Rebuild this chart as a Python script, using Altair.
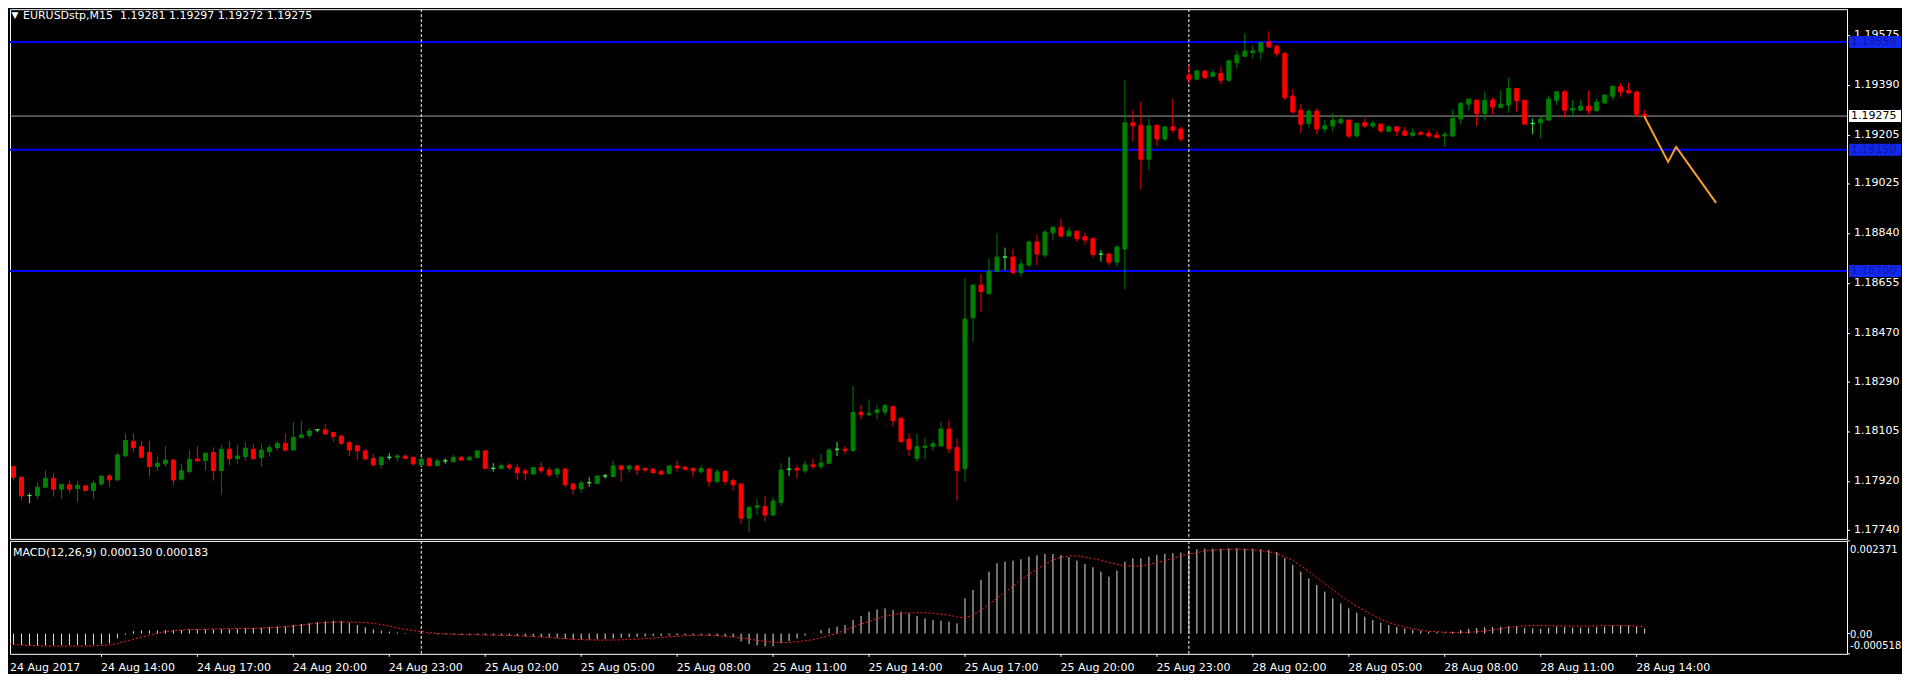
import altair as alt
import pandas as pd

# ---------------- data ----------------
opens = [
    1.17925, 1.17975, 1.17935, 1.17867, 1.17867, 1.17898, 1.17931, 1.17891, 1.17907, 1.17893,
    1.17903, 1.17886, 1.17910, 1.17940, 1.17925, 1.18014, 1.18069, 1.18049, 1.18027, 1.17975,
    1.17985, 1.17999, 1.17928, 1.17956, 1.18003, 1.17997, 1.18027, 1.17960, 1.18039, 1.18004,
    1.18012, 1.18039, 1.18009, 1.18030, 1.18045, 1.18061, 1.18036, 1.18082, 1.18090, 1.18111,
    1.18111, 1.18101, 1.18088, 1.18064, 1.18052, 1.18033, 1.18005, 1.17981, 1.18009, 1.18009,
    1.18014, 1.18009, 1.17981, 1.18005, 1.17978, 1.17996, 1.17993, 1.18009, 1.17999, 1.18008,
    1.18033, 1.17968, 1.17967, 1.17980, 1.17970, 1.17959, 1.17947, 1.17971, 1.17962, 1.17947,
    1.17966, 1.17910, 1.17892, 1.17915, 1.17912, 1.17940, 1.17938, 1.17977, 1.17966, 1.17977,
    1.17968, 1.17965, 1.17957, 1.17949, 1.17977, 1.17973, 1.17968, 1.17955, 1.17966, 1.17919,
    1.17956, 1.17923, 1.17910, 1.17783, 1.17824, 1.17826, 1.17795, 1.17841, 1.17965, 1.17968,
    1.17959, 1.17981, 1.17975, 1.17987, 1.18039, 1.18039, 1.18034, 1.18176, 1.18167, 1.18175,
    1.18177, 1.18197, 1.18154, 1.18076, 1.18005, 1.18046, 1.18049, 1.18051, 1.18114, 1.18045,
    1.17967, 1.18527, 1.18648, 1.18617, 1.18699, 1.18752, 1.18752, 1.18694, 1.18722, 1.18808,
    1.18760, 1.18842, 1.18863, 1.18830, 1.18848, 1.18827, 1.18820, 1.18763, 1.18763, 1.18733,
    1.18782, 1.19250, 1.19241, 1.19115, 1.19241, 1.19190, 1.19235, 1.19227, 1.19427, 1.19412,
    1.19442, 1.19423, 1.19433, 1.19408, 1.19473, 1.19497, 1.19510, 1.19513, 1.19550, 1.19534,
    1.19507, 1.19349, 1.19297, 1.19248, 1.19293, 1.19227, 1.19238, 1.19250, 1.19260, 1.19201,
    1.19250, 1.19238, 1.19245, 1.19219, 1.19235, 1.19219, 1.19204, 1.19213, 1.19211, 1.19204,
    1.19201, 1.19201, 1.19265, 1.19319, 1.19334, 1.19285, 1.19334, 1.19307, 1.19316, 1.19377,
    1.19334, 1.19248, 1.19250, 1.19260, 1.19334, 1.19365, 1.19297, 1.19297, 1.19312, 1.19295,
    1.19324, 1.19349, 1.19384, 1.19369, 1.19364, 1.19281,
]
highs = [
    1.17981, 1.17977, 1.17937, 1.17876, 1.17915, 1.17959, 1.17950, 1.17909, 1.17922, 1.17922,
    1.17905, 1.17923, 1.17943, 1.17947, 1.18027, 1.18098, 1.18098, 1.18071, 1.18071, 1.18012,
    1.18049, 1.18002, 1.17985, 1.18036, 1.18049, 1.18027, 1.18046, 1.18054, 1.18069, 1.18055,
    1.18066, 1.18059, 1.18061, 1.18055, 1.18071, 1.18098, 1.18140, 1.18144, 1.18117, 1.18114,
    1.18132, 1.18104, 1.18091, 1.18071, 1.18055, 1.18039, 1.18022, 1.18014, 1.18024, 1.18020,
    1.18018, 1.18012, 1.18009, 1.18009, 1.18005, 1.18005, 1.18018, 1.18014, 1.18014, 1.18034,
    1.18034, 1.17987, 1.17987, 1.17987, 1.17984, 1.17968, 1.17972, 1.17992, 1.17972, 1.17967,
    1.17967, 1.17913, 1.17923, 1.17935, 1.17941, 1.17947, 1.17997, 1.17980, 1.17982, 1.17981,
    1.17972, 1.17970, 1.17962, 1.17981, 1.17997, 1.17977, 1.17972, 1.17980, 1.17968, 1.17966,
    1.17962, 1.17930, 1.17913, 1.17829, 1.17856, 1.17866, 1.17863, 1.17987, 1.18009, 1.17981,
    1.17996, 1.18005, 1.18022, 1.18043, 1.18066, 1.18051, 1.18274, 1.18203, 1.18224, 1.18203,
    1.18207, 1.18202, 1.18158, 1.18098, 1.18096, 1.18082, 1.18071, 1.18141, 1.18145, 1.18078,
    1.18672, 1.18651, 1.18689, 1.18745, 1.18840, 1.18787, 1.18782, 1.18743, 1.18813, 1.18836,
    1.18852, 1.18867, 1.18895, 1.18862, 1.18850, 1.18842, 1.18825, 1.18778, 1.18768, 1.18796,
    1.19408, 1.19297, 1.19328, 1.19266, 1.19241, 1.19238, 1.19340, 1.19235, 1.19464, 1.19445,
    1.19445, 1.19448, 1.19458, 1.19485, 1.19517, 1.19581, 1.19538, 1.19550, 1.19590, 1.19538,
    1.19513, 1.19374, 1.19319, 1.19302, 1.19303, 1.19260, 1.19285, 1.19275, 1.19262, 1.19250,
    1.19266, 1.19258, 1.19248, 1.19241, 1.19238, 1.19235, 1.19229, 1.19220, 1.19223, 1.19217,
    1.19217, 1.19300, 1.19328, 1.19340, 1.19337, 1.19365, 1.19344, 1.19369, 1.19418, 1.19377,
    1.19334, 1.19266, 1.19272, 1.19351, 1.19367, 1.19371, 1.19334, 1.19334, 1.19369, 1.19340,
    1.19356, 1.19386, 1.19398, 1.19398, 1.19369, 1.19297,
]
lows = [
    1.17907, 1.17923, 1.17849, 1.17839, 1.17854, 1.17894, 1.17863, 1.17854, 1.17878, 1.17844,
    1.17881, 1.17854, 1.17903, 1.17900, 1.17923, 1.18012, 1.18027, 1.18007, 1.17937, 1.17960,
    1.17975, 1.17907, 1.17923, 1.17950, 1.17993, 1.17960, 1.17923, 1.17870, 1.17980, 1.17985,
    1.17997, 1.17999, 1.17975, 1.18012, 1.18036, 1.18030, 1.18036, 1.18080, 1.18080, 1.18102,
    1.18092, 1.18067, 1.18055, 1.18014, 1.17999, 1.17999, 1.17975, 1.17968, 1.17999, 1.17993,
    1.18002, 1.17977, 1.17977, 1.17975, 1.17977, 1.17985, 1.17989, 1.17997, 1.17997, 1.18004,
    1.17966, 1.17956, 1.17965, 1.17962, 1.17925, 1.17923, 1.17944, 1.17950, 1.17935, 1.17933,
    1.17898, 1.17870, 1.17878, 1.17900, 1.17909, 1.17930, 1.17935, 1.17919, 1.17952, 1.17944,
    1.17952, 1.17949, 1.17944, 1.17946, 1.17956, 1.17960, 1.17935, 1.17950, 1.17900, 1.17913,
    1.17905, 1.17886, 1.17762, 1.17730, 1.17795, 1.17771, 1.17792, 1.17829, 1.17940, 1.17930,
    1.17950, 1.17966, 1.17965, 1.17983, 1.18014, 1.18022, 1.18030, 1.18150, 1.18162, 1.18150,
    1.18164, 1.18123, 1.18064, 1.18014, 1.17993, 1.18002, 1.18034, 1.18049, 1.18024, 1.17849,
    1.17919, 1.18438, 1.18549, 1.18611, 1.18696, 1.18704, 1.18689, 1.18679, 1.18716, 1.18722,
    1.18751, 1.18813, 1.18824, 1.18827, 1.18808, 1.18799, 1.18751, 1.18735, 1.18721, 1.18716,
    1.18632, 1.19182, 1.19003, 1.19075, 1.19164, 1.19183, 1.19213, 1.19180, 1.19396, 1.19408,
    1.19412, 1.19418, 1.19393, 1.19402, 1.19452, 1.19497, 1.19489, 1.19485, 1.19528, 1.19495,
    1.19334, 1.19285, 1.19211, 1.19232, 1.19208, 1.19213, 1.19217, 1.19245, 1.19194, 1.19198,
    1.19232, 1.19229, 1.19213, 1.19217, 1.19201, 1.19201, 1.19198, 1.19204, 1.19196, 1.19192,
    1.19161, 1.19198, 1.19245, 1.19297, 1.19238, 1.19262, 1.19282, 1.19307, 1.19287, 1.19291,
    1.19245, 1.19208, 1.19192, 1.19257, 1.19316, 1.19270, 1.19272, 1.19295, 1.19282, 1.19291,
    1.19319, 1.19337, 1.19346, 1.19356, 1.19272, 1.19272,
]
closes = [
    1.17975, 1.17935, 1.17866, 1.17867, 1.17898, 1.17931, 1.17891, 1.17909, 1.17891, 1.17905,
    1.17886, 1.17913, 1.17939, 1.17925, 1.18018, 1.18071, 1.18045, 1.18009, 1.17975, 1.17987,
    1.17999, 1.17925, 1.17959, 1.18002, 1.17996, 1.18024, 1.17960, 1.18039, 1.18004, 1.18014,
    1.18043, 1.18004, 1.18036, 1.18045, 1.18061, 1.18036, 1.18083, 1.18092, 1.18107, 1.18111,
    1.18096, 1.18086, 1.18061, 1.18036, 1.18033, 1.18003, 1.17981, 1.18009, 1.18009, 1.18014,
    1.18005, 1.17985, 1.18002, 1.17978, 1.17996, 1.17996, 1.18009, 1.17999, 1.18009, 1.18033,
    1.17968, 1.17968, 1.17978, 1.17970, 1.17952, 1.17950, 1.17971, 1.17959, 1.17944, 1.17966,
    1.17907, 1.17891, 1.17914, 1.17915, 1.17940, 1.17940, 1.17977, 1.17965, 1.17977, 1.17962,
    1.17962, 1.17952, 1.17947, 1.17977, 1.17970, 1.17965, 1.17959, 1.17968, 1.17919, 1.17955,
    1.17919, 1.17907, 1.17783, 1.17823, 1.17829, 1.17795, 1.17847, 1.17962, 1.17965, 1.17962,
    1.17981, 1.17975, 1.17988, 1.18036, 1.18039, 1.18034, 1.18176, 1.18167, 1.18172, 1.18185,
    1.18201, 1.18145, 1.18067, 1.18039, 1.18049, 1.18051, 1.18060, 1.18114, 1.18041, 1.17960,
    1.18522, 1.18648, 1.18623, 1.18700, 1.18752, 1.18752, 1.18694, 1.18726, 1.18808, 1.18763,
    1.18845, 1.18862, 1.18830, 1.18848, 1.18820, 1.18815, 1.18762, 1.18763, 1.18733, 1.18789,
    1.19250, 1.19239, 1.19115, 1.19239, 1.19190, 1.19235, 1.19223, 1.19190, 1.19412, 1.19443,
    1.19418, 1.19436, 1.19408, 1.19480, 1.19501, 1.19516, 1.19517, 1.19548, 1.19532, 1.19507,
    1.19344, 1.19290, 1.19245, 1.19293, 1.19227, 1.19239, 1.19260, 1.19262, 1.19201, 1.19248,
    1.19238, 1.19248, 1.19220, 1.19235, 1.19219, 1.19204, 1.19213, 1.19208, 1.19201, 1.19196,
    1.19207, 1.19266, 1.19322, 1.19338, 1.19285, 1.19334, 1.19309, 1.19319, 1.19377, 1.19332,
    1.19245, 1.19248, 1.19264, 1.19338, 1.19365, 1.19297, 1.19303, 1.19312, 1.19295, 1.19327,
    1.19353, 1.19386, 1.19365, 1.19361, 1.19282, 1.19275,
]
# MACD main (histogram) and signal, in millionths
macd_main_e6 = [
    -280, -285, -300, -310, -310, -300, -300, -295, -295, -290,
    -290, -285, -270, -250, -120, -30, 60, 80, 80, 80,
    90, 85, 90, 105, 110, 115, 110, 120, 115, 120,
    135, 140, 150, 165, 180, 185, 220, 245, 265, 290,
    310, 329, 320, 280, 220, 160, 110, 75, 50, 30,
    15, 5, -5, -15, -20, -25, -25, -30, -30, -30,
    -40, -45, -50, -55, -65, -75, -80, -90, -100, -110,
    -130, -150, -155, -155, -150, -145, -125, -110, -95, -85,
    -75, -65, -60, -50, -45, -40, -40, -45, -55, -60,
    -70, -90, -200, -270, -300, -330, -320, -250, -190, -130,
    -50, 10, 90, 132, 175, 218, 346, 449, 560, 619,
    645, 602, 560, 517, 449, 389, 346, 329, 303, 261,
    901, 1115, 1371, 1584, 1798, 1841, 1867, 1901, 1969, 2004,
    2038, 2038, 2012, 1952, 1867, 1781, 1696, 1584, 1457, 1610,
    1841, 1927, 1927, 1969, 2012, 2038, 2055, 2072, 2123, 2157,
    2174, 2174, 2174, 2183, 2183, 2174, 2174, 2157, 2140, 2089,
    1927, 1756, 1584, 1413, 1243, 1072, 901, 773, 645, 534,
    431, 346, 278, 218, 175, 132, 98, 73, 47, 30,
    21, 47, 90, 124, 141, 158, 167, 175, 192, 184,
    150, 132, 124, 150, 175, 167, 150, 150, 150, 167,
    175, 201, 209, 209, 184, 130,
]
macd_signal_e6 = [
    -250, -275, -295, -303, -310, -316, -320, -320, -320, -320,
    -318, -315, -305, -290, -255, -200, -150, -95, -40, 5,
    45, 70, 88, 100, 108, 114, 118, 122, 125, 128,
    131, 134, 140, 150, 160, 175, 195, 215, 240, 265,
    285, 295, 298, 297, 292, 280, 262, 235, 195, 150,
    110, 80, 55, 25, 5, -8, -16, -22, -28, -33,
    -36, -38, -42, -48, -55, -63, -75, -88, -100, -115,
    -130, -145, -155, -162, -167, -167, -165, -160, -150, -140,
    -128, -115, -100, -85, -68, -55, -45, -38, -45, -55,
    -70, -85, -110, -140, -170, -200, -215, -225, -226, -210,
    -185, -160, -110, -55, 5, 80, 160, 240, 305, 380,
    440, 485, 517, 530, 535, 534, 520, 495, 474, 430,
    395, 470, 590, 740, 900, 1050, 1200, 1360, 1500, 1640,
    1760, 1880, 1950, 1985, 1987, 1960, 1920, 1880, 1820, 1770,
    1735, 1728, 1730, 1760, 1810, 1860, 1920, 1990, 2030, 2070,
    2110, 2130, 2145, 2155, 2157, 2155, 2140, 2120, 2098, 2050,
    1970, 1880, 1750, 1600, 1440, 1290, 1130, 980, 840, 700,
    590, 480, 370, 290, 230, 175, 130, 95, 60, 45,
    35, 30, 30, 35, 45, 65, 90, 125, 155, 180,
    200, 205, 205, 200, 198, 195, 192, 192, 192, 195,
    200, 208, 210, 200, 188, 183,
]

time_tick_idx = [0, 12, 24, 36, 48, 60, 72, 84, 96, 108, 120, 132, 144, 156, 168, 180, 192, 204]
time_tick_labels = [
    "24 Aug 2017", "24 Aug 14:00", "24 Aug 17:00", "24 Aug 20:00", "24 Aug 23:00",
    "25 Aug 02:00", "25 Aug 05:00", "25 Aug 08:00", "25 Aug 11:00", "25 Aug 14:00",
    "25 Aug 17:00", "25 Aug 20:00", "25 Aug 23:00", "28 Aug 02:00", "28 Aug 05:00",
    "28 Aug 08:00", "28 Aug 11:00", "28 Aug 14:00",
]
price_ticks = [1.19575, 1.19390, 1.19205, 1.19025, 1.18840, 1.18655,
               1.18470, 1.18290, 1.18105, 1.17920, 1.17740]
level_prices = [1.19550, 1.19150, 1.18700]
bid_price = [1.19275]
day_break_idx = [52, 148]
forecast_idx = [205, 208, 209, 214]
forecast_price = [1.19275, 1.19105, 1.19161, 1.18953]
macd_ticks = [0.002371, 0.0, -0.000518]
macd_tick_labels = ["0.002371", "0.00", "-0.000518"]

n = len(opens)
assert n == len(highs) == len(lows) == len(closes) == len(macd_main_e6) == len(macd_signal_e6) == 206

bars = pd.DataFrame({
    "i": list(range(n)),
    "o": opens, "h": highs, "l": lows, "c": closes,
    "m": [v / 1e6 for v in macd_main_e6],
    "s": [v / 1e6 for v in macd_signal_e6],
})

# ---------------- layout / style ----------------
FONT = "DejaVu Sans"
W = 1838            # plot width (8 px per bar)
H_MAIN = 530
H_MACD = 113
X0 = 0.625          # first visible bar position
BULL = "#008000"
BEAR = "#FF0000"
DOJI = "#3CF03C"
WHITE = "#FFFFFF"

xs = alt.Scale(domain=[X0, X0 + W / 8], nice=False, zero=False)
ys = alt.Scale(domain=[1.177064, 1.196716], nice=False, zero=False)
ms = alt.Scale(domain=[macd_ticks[2], macd_ticks[0]], nice=False, zero=False)
kscale = alt.Scale(domain=["up", "down", "doji"], range=[BULL, BEAR, DOJI])
kind_expr = "datum.c > datum.o ? 'up' : (datum.c < datum.o ? 'down' : 'doji')"

X = alt.X("i:Q", scale=xs, axis=None)
def YP(field):
    return alt.Y(field, type="quantitative", scale=ys, axis=None)
def YM(field):
    return alt.Y(field, type="quantitative", scale=ms, axis=None)

base = alt.Chart(bars).transform_calculate(kind=kind_expr)
levels_df = pd.DataFrame({"p": level_prices})
bid_df = pd.DataFrame({"p": bid_price})
sep_df = pd.DataFrame({"i": day_break_idx})
ptick_df = pd.DataFrame({"p": price_ticks})
mtick_df = pd.DataFrame({"v": macd_ticks, "t": macd_tick_labels})
ttick_df = pd.DataFrame({"t": time_tick_idx, "lab": time_tick_labels})

# ---- main (price) panel ----
levels = alt.Chart(levels_df).mark_rule(color="#0000FF", strokeWidth=2).encode(y=YP("p"))
bidline = alt.Chart(bid_df).mark_rule(color="#A0A0A0", strokeWidth=1).encode(y=YP("p"))
seps = alt.Chart(sep_df).mark_rule(color=WHITE, strokeDash=[3, 2], strokeWidth=1,
                                   xOffset=0.5).encode(x=X)
wicks = base.mark_rule(strokeWidth=1, xOffset=0.5, clip=True).encode(
    x=X, y=YP("l"), y2=alt.Y2("h"),
    color=alt.Color("kind:N", scale=kscale, legend=None),
)
bodies = base.mark_rect(strokeWidth=1, xOffset=-1.5, x2Offset=2.5, clip=True).encode(
    x=X, x2=alt.X2("i"), y=YP("o"), y2=alt.Y2("c"),
    color=alt.Color("kind:N", scale=kscale, legend=None),
    stroke=alt.Stroke("kind:N", scale=kscale, legend=None),
)
forecast = alt.Chart(pd.DataFrame({"i": forecast_idx, "p": forecast_price})).mark_line(
    color="#F5A028", strokeWidth=2).encode(x=X, y=YP("p"))

price_tick_marks = alt.Chart(ptick_df).mark_rule(color=WHITE, yOffset=0.5).encode(
    x=alt.value(W), x2=alt.value(W + 3), y=YP("p"))
price_labels = alt.Chart(ptick_df).mark_text(
    align="left", baseline="middle", font=FONT, fontSize=11, color=WHITE).encode(
    x=alt.value(W + 7), y=YP("p"), text=alt.Text("p:Q", format=".5f"))

level_box = alt.Chart(levels_df).mark_rect(color="#1028F0", yOffset=-6, y2Offset=6).encode(
    x=alt.value(W + 2), x2=alt.value(W + 54), y=YP("p"), y2=alt.Y2("p"))
level_txt = alt.Chart(levels_df).mark_text(align="left", baseline="middle", font=FONT,
                                           fontSize=11, color="#101898").encode(
    x=alt.value(W + 4), y=YP("p"), text=alt.Text("p:Q", format=".5f"))
bid_box = alt.Chart(bid_df).mark_rect(color=WHITE, yOffset=-6, y2Offset=6).encode(
    x=alt.value(W + 2), x2=alt.value(W + 54), y=YP("p"), y2=alt.Y2("p"))
bid_txt = alt.Chart(bid_df).mark_text(align="left", baseline="middle", font=FONT,
                                      fontSize=11, color="#000000").encode(
    x=alt.value(W + 4), y=YP("p"), text=alt.Text("p:Q", format=".5f"))

title_str = (f"EURUSDstp,M15\u00a0\u00a0{opens[-1]:.5f} {highs[-1]:.5f} "
             f"{lows[-1]:.5f} {closes[-1]:.5f}")
title_txt = alt.Chart(pd.DataFrame({"t": [title_str]})).mark_text(
    align="left", baseline="middle", font=FONT, fontSize=11, color=WHITE).encode(
    x=alt.value(13), y=alt.value(7), text="t:N")
tri = alt.Chart(pd.DataFrame({"t": ["\u25bc"]})).mark_text(
    align="center", baseline="middle", font=FONT, fontSize=9, color=WHITE).encode(
    x=alt.value(5), y=alt.value(6), text="t:N")

main = alt.layer(levels, bidline, seps, wicks, bodies, forecast,
                 price_tick_marks, price_labels,
                 level_box, level_txt, bid_box, bid_txt, tri, title_txt).properties(
    width=W, height=H_MAIN)

# ---- MACD panel ----
hist = alt.Chart(bars).mark_rule(color="#E0E0E0", strokeWidth=1, xOffset=0.5, clip=True).encode(
    x=X, y=YM("m"), y2=alt.datum(0))
signal = alt.Chart(bars).mark_line(color="#FF2020", strokeWidth=1, strokeDash=[2, 2],
                                   clip=True).encode(x=X, y=YM("s"))
seps_m = alt.Chart(sep_df).mark_rule(color=WHITE, strokeDash=[3, 2], strokeWidth=1,
                                     xOffset=0.5).encode(x=X)
macd_str = f"MACD(12,26,9) {macd_main_e6[-1] / 1e6:.6f} {macd_signal_e6[-1] / 1e6:.6f}"
macd_txt = alt.Chart(pd.DataFrame({"t": [macd_str]})).mark_text(
    align="left", baseline="middle", font=FONT, fontSize=11, color=WHITE).encode(
    x=alt.value(3), y=alt.value(12), text="t:N")

macd_tick_marks = alt.Chart(mtick_df).mark_rule(color=WHITE).encode(
    x=alt.value(W), x2=alt.value(W + 3), y=YM("v"))
mlab = alt.Chart(mtick_df)
MLAB = dict(align="left", baseline="middle", font=FONT, fontSize=10, color=WHITE)
macd_lab_top = mlab.transform_filter("datum.v > 0").mark_text(dy=9, **MLAB).encode(
    x=alt.value(W + 3), y=YM("v"), text="t:N")
macd_lab_zero = mlab.transform_filter("datum.v == 0").mark_text(dy=1, **MLAB).encode(
    x=alt.value(W + 3), y=YM("v"), text="t:N")
macd_lab_bot = mlab.transform_filter("datum.v < 0").mark_text(dy=-8, **MLAB).encode(
    x=alt.value(W + 3), y=YM("v"), text="t:N")

time_tick_marks = alt.Chart(ttick_df).transform_filter(f"datum.t >= {X0}").mark_rule(
    color=WHITE, xOffset=0.5).encode(
    x=alt.X("t:Q", scale=xs, axis=None), y=alt.value(H_MACD), y2=alt.value(H_MACD + 3))
time_labels = alt.Chart(ttick_df).transform_calculate(tx=f"max(datum.t, {X0})").mark_text(
    align="left", baseline="top", font=FONT, fontSize=11, color=WHITE).encode(
    x=alt.X("tx:Q", scale=xs, axis=None), y=alt.value(H_MACD + 8), text="lab:N")

macd = alt.layer(hist, signal, seps_m, macd_txt, macd_tick_marks,
                 macd_lab_top, macd_lab_zero, macd_lab_bot,
                 time_tick_marks, time_labels).properties(width=W, height=H_MACD)

chart = (
    alt.vconcat(main, macd, spacing=2, bounds="flush")
    .properties(padding=0)
    .configure(background="#000000")
    .configure_view(stroke=WHITE, strokeWidth=1)
)

chart.save("out.html", embed_options={"renderer": "svg", "actions": False})
